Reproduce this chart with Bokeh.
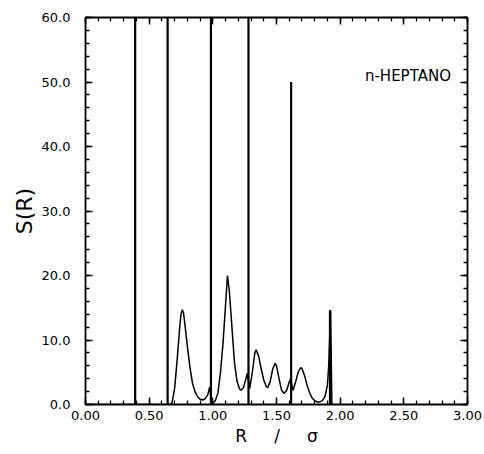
from bokeh.plotting import figure
from bokeh.models import (LinearAxis, SingleIntervalTicker, PrintfTickFormatter, Label,
                          ColumnDataSource, CustomJSTickFormatter)
from bokeh.embed import file_html
from bokeh.resources import INLINE

# continuous S(R) curve
r_curve = [0.00, 0.66, 0.68, 0.70, 0.72, 0.74, 0.75, 0.76, 0.77, 0.78, 0.80, 0.82, 0.84, 0.86,
           0.88, 0.90, 0.92, 0.94, 0.96, 0.975, 0.99, 1.00, 1.02, 1.04, 1.06, 1.08, 1.10, 1.115,
           1.13, 1.15, 1.17, 1.19, 1.21, 1.22, 1.24, 1.26, 1.27, 1.29, 1.31, 1.33, 1.34, 1.36,
           1.38, 1.40, 1.42, 1.43, 1.45, 1.47, 1.49, 1.50, 1.52, 1.54, 1.56, 1.58, 1.60, 1.61,
           1.63, 1.65, 1.67, 1.69, 1.70, 1.72, 1.74, 1.76, 1.78, 1.80, 1.82, 1.84, 1.86, 1.88,
           1.90, 1.91, 1.925, 1.935]
s_curve = [0.0, 0.0, 0.3, 2.5, 7.0, 12.0, 14.0, 14.7, 14.2, 12.5, 9.0, 5.8, 3.3, 2.0,
           1.2, 0.8, 0.7, 0.9, 1.5, 2.7, 0.2, 0.2, 0.6, 1.8, 5.0, 9.5, 15.5, 20.0,
           17.5, 12.0, 6.5, 3.6, 2.4, 2.2, 2.6, 4.0, 4.8, 2.5, 5.0, 8.0, 8.5, 7.5,
           5.5, 3.8, 2.8, 2.6, 3.5, 5.5, 6.4, 6.0, 4.0, 2.2, 1.7, 2.2, 3.5, 4.0,
           2.2, 3.5, 5.0, 5.7, 5.6, 4.5, 3.0, 1.8, 1.0, 0.6, 0.4, 0.4, 0.6, 1.2,
           3.0, 6.0, 14.6, 0.0]

# delta-like peaks (the four leftmost run off the top of the scale)
r_spike = [0.39, 0.645, 0.985, 1.28, 1.615, 1.92]
s_spike = [60.0, 60.0, 60.0, 60.0, 50.0, 14.6]

x_title = "R" + "\u00a0" * 5 + "/" + "\u00a0" * 5 + "σ"
y_title = "S(R)"

FONT = "DejaVu Sans"

p = figure(width=484, height=454, x_range=(0, 3), y_range=(0, 60),
           x_axis_type=None, y_axis_type=None,
           output_backend="svg", toolbar_location=None,
           min_border_left=85, min_border_right=17, min_border_top=17, min_border_bottom=50)
p.outline_line_color = None
p.background_fill_color = "white"
p.border_fill_color = "white"


def make_axis(interval, fmt, show_labels, standoff):
    if show_labels:
        formatter = PrintfTickFormatter(format=fmt)
    else:
        formatter = CustomJSTickFormatter(code="return ''")
    ax = LinearAxis(ticker=SingleIntervalTicker(interval=interval, num_minor_ticks=5),
                    formatter=formatter)
    ax.axis_line_width = 1.8
    ax.axis_line_color = "black"
    ax.major_tick_in = 7
    ax.major_tick_out = 0
    ax.minor_tick_in = 4
    ax.minor_tick_out = 0
    ax.major_tick_line_width = 1.5
    ax.minor_tick_line_width = 1.3
    ax.major_label_text_font = FONT
    ax.major_label_text_font_size = "13px"
    ax.major_label_text_color = "black"
    ax.major_label_standoff = standoff
    ax.axis_label_text_font = FONT
    ax.axis_label_text_font_style = "normal"
    ax.axis_label_text_color = "black"
    return ax


xb = make_axis(0.5, "%.2f", True, 6)
xb.axis_label = x_title
xb.axis_label_text_font_size = "17px"
xb.axis_label_standoff = 3
p.add_layout(xb, "below")

yl = make_axis(10, "%.1f", True, 15)
yl.axis_label = y_title
yl.axis_label_text_font_size = "22px"
yl.axis_label_standoff = 2
p.add_layout(yl, "left")

p.add_layout(make_axis(0.5, "%.2f", False, 0), "above")
p.add_layout(make_axis(10, "%.1f", False, 0), "right")

p.line(r_curve, s_curve, line_color="black", line_width=1.5)
src = ColumnDataSource(dict(x=r_spike, y0=[0.0] * len(r_spike), y1=s_spike))
p.segment(x0="x", y0="y0", x1="x", y1="y1", source=src, line_color="black", line_width=2.2)

p.add_layout(Label(x=2.87, y=51.0, text="n-HEPTANO", text_font=FONT, text_font_size="15px",
                   text_align="right", text_baseline="middle", text_color="black"))

open("out.html", "w").write(file_html(p, INLINE))
